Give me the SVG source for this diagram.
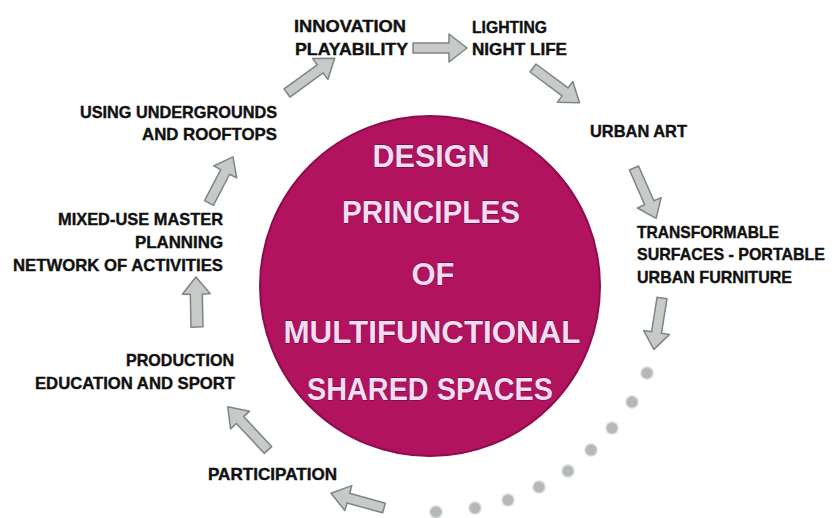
<svg xmlns="http://www.w3.org/2000/svg" width="836" height="518" viewBox="0 0 836 518">
<style>
.lbl{font-family:"Liberation Sans",Arial,sans-serif;font-weight:bold;font-size:17px;fill:#111111;stroke:#111111;stroke-width:0.4px}
.ctr{font-family:"Liberation Sans",Arial,sans-serif;font-weight:bold;font-size:32px;fill:#f6dcf2;stroke:#5e0a35;stroke-width:0.8px;paint-order:stroke;text-anchor:middle}
.arr{fill:#c6cbc9;stroke:#7f8583;stroke-width:1.5;stroke-linejoin:round}
.dot{fill:#b4b8b7;stroke:#d6d9d8;stroke-width:1.5}
</style>
<rect width="836" height="518" fill="#ffffff"/>
<g id="center">
<circle cx="430" cy="286" r="170" fill="#b1135f" stroke="#8e0c4b" stroke-width="2"/>
<text class="ctr" x="431" y="167" textLength="117" lengthAdjust="spacingAndGlyphs">DESIGN</text>
<text class="ctr" x="431" y="223" textLength="178" lengthAdjust="spacingAndGlyphs">PRINCIPLES</text>
<text class="ctr" x="433" y="285" textLength="43" lengthAdjust="spacingAndGlyphs">OF</text>
<text class="ctr" x="432" y="343" textLength="297" lengthAdjust="spacingAndGlyphs">MULTIFUNCTIONAL</text>
<text class="ctr" x="430" y="400" textLength="246" lengthAdjust="spacingAndGlyphs">SHARED SPACES</text>
</g>
<g id="connectors">
<path class="arr" transform="translate(413,48)" d="M0,-5 L36,-5 L36,-14 L54,0 L36,14 L36,5 L0,5 Z"/>
<path class="arr" transform="translate(287,93) rotate(-36)" d="M0,-5 L41,-5 L41,-13 L59,0 L41,13 L41,5 L0,5 Z"/>
<path class="arr" transform="translate(533,68) rotate(36.7)" d="M0,-5 L40,-5 L40,-13 L58,0 L40,13 L40,5 L0,5 Z"/>
<path class="arr" transform="translate(634,168) rotate(66.3)" d="M0,-5 L38,-5 L38,-13 L55,0 L38,13 L38,5 L0,5 Z"/>
<path class="arr" transform="translate(662,298) rotate(99)" d="M0,-5 L35,-5 L35,-13 L52,0 L35,13 L35,5 L0,5 Z"/>
<path class="arr" transform="translate(384,508) rotate(195.5)" d="M0,-5 L37,-5 L37,-13 L55,0 L37,13 L37,5 L0,5 Z"/>
<path class="arr" transform="translate(268,450) rotate(227)" d="M0,-5 L41,-5 L41,-13 L59,0 L41,13 L41,5 L0,5 Z"/>
<path class="arr" transform="translate(197,327) rotate(268.8)" d="M0,-6 L33,-6 L33,-14 L50,0 L33,14 L33,6 L0,6 Z"/>
<path class="arr" transform="translate(209,203) rotate(297.5)" d="M0,-5 L35,-5 L35,-13 L52,0 L35,13 L35,5 L0,5 Z"/>
<circle class="dot" cx="647" cy="373" r="6"/>
<circle class="dot" cx="632" cy="402" r="6"/>
<circle class="dot" cx="612" cy="428" r="6"/>
<circle class="dot" cx="591" cy="450" r="6"/>
<circle class="dot" cx="568" cy="471" r="6"/>
<circle class="dot" cx="539" cy="487" r="6"/>
<circle class="dot" cx="508" cy="500" r="6"/>
<circle class="dot" cx="475" cy="508" r="6"/>
<circle class="dot" cx="436" cy="512" r="6"/>
</g>
<g id="n-innovation">
<text class="lbl" x="294" y="32" textLength="112" lengthAdjust="spacingAndGlyphs">INNOVATION</text>
<text class="lbl" x="295" y="55" textLength="113" lengthAdjust="spacingAndGlyphs">PLAYABILITY</text>
</g>
<g id="n-lighting">
<text class="lbl" x="472" y="33" textLength="75" lengthAdjust="spacingAndGlyphs">LIGHTING</text>
<text class="lbl" x="472" y="55" textLength="95" lengthAdjust="spacingAndGlyphs">NIGHT LIFE</text>
</g>
<g id="n-urbanart">
<text class="lbl" x="590" y="137" textLength="97" lengthAdjust="spacingAndGlyphs">URBAN ART</text>
</g>
<g id="n-transformable">
<text class="lbl" x="637" y="238" textLength="142" lengthAdjust="spacingAndGlyphs">TRANSFORMABLE</text>
<text class="lbl" x="637" y="260" textLength="188" lengthAdjust="spacingAndGlyphs">SURFACES - PORTABLE</text>
<text class="lbl" x="637" y="283" textLength="155" lengthAdjust="spacingAndGlyphs">URBAN FURNITURE</text>
</g>
<g id="n-undergrounds">
<text class="lbl" x="80" y="118" textLength="197" lengthAdjust="spacingAndGlyphs">USING UNDERGROUNDS</text>
<text class="lbl" x="142" y="140" textLength="135" lengthAdjust="spacingAndGlyphs">AND ROOFTOPS</text>
</g>
<g id="n-mixeduse">
<text class="lbl" x="58" y="225" textLength="165" lengthAdjust="spacingAndGlyphs">MIXED-USE MASTER</text>
<text class="lbl" x="135" y="248" textLength="88" lengthAdjust="spacingAndGlyphs">PLANNING</text>
<text class="lbl" x="13" y="271" textLength="210" lengthAdjust="spacingAndGlyphs">NETWORK OF ACTIVITIES</text>
</g>
<g id="n-production">
<text class="lbl" x="126" y="366" textLength="108" lengthAdjust="spacingAndGlyphs">PRODUCTION</text>
<text class="lbl" x="35" y="389" textLength="200" lengthAdjust="spacingAndGlyphs">EDUCATION AND SPORT</text>
</g>
<g id="n-participation">
<text class="lbl" x="208" y="480" textLength="129" lengthAdjust="spacingAndGlyphs">PARTICIPATION</text>
</g>
</svg>
